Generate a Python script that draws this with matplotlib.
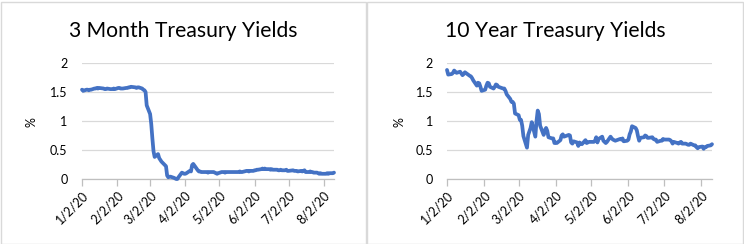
"""
Treasury yields 2020: 3-month vs 10-year, two Excel-style panels side by side.
Values are daily closes (business days, Jan 2 - Aug 11 2020) read off the chart.
"""
import numpy as np
import pandas as pd
import matplotlib
matplotlib.use("Agg")
import matplotlib.pyplot as plt
from matplotlib.patches import Rectangle

plt.rcParams["font.family"] = ["Lato", "DejaVu Sans"]

# --- data -----------------------------------------------------------------
start_date = "2020-01-02"
end_date = "2020-08-11"
bond_holidays = ["2020-01-20", "2020-02-17", "2020-04-10", "2020-05-25", "2020-07-03"]

yield_3m = [
    # Jan
    1.54, 1.52, 1.54, 1.54, 1.53, 1.54, 1.54, 1.56, 1.56, 1.57, 1.56, 1.57, 1.56, 1.55,
    1.55, 1.56, 1.55, 1.55, 1.55, 1.56, 1.55,
    # Feb
    1.57, 1.57, 1.56, 1.56, 1.56, 1.57, 1.57, 1.58, 1.58, 1.59, 1.58, 1.57, 1.58, 1.58,
    1.56, 1.54, 1.53, 1.50, 1.27,
    # Mar
    1.12, 0.95, 0.70, 0.48, 0.38, 0.43, 0.36, 0.33, 0.30, 0.28, 0.22, 0.06, 0.03, 0.04,
    0.04, 0.02, 0.01, 0.00, 0.00, 0.03, 0.11, 0.10,
    # Apr
    0.09, 0.09, 0.10, 0.14, 0.13, 0.24, 0.26, 0.15, 0.13, 0.13, 0.12, 0.12, 0.12, 0.12,
    0.11, 0.12, 0.12, 0.12, 0.11, 0.10, 0.09,
    # May
    0.10, 0.12, 0.12, 0.12, 0.11, 0.12, 0.12, 0.12, 0.12, 0.12, 0.12, 0.12, 0.12, 0.13,
    0.12, 0.12, 0.14, 0.14, 0.13, 0.14,
    # Jun
    0.14, 0.15, 0.15, 0.16, 0.16, 0.17, 0.18, 0.17, 0.18, 0.17, 0.17, 0.16, 0.17, 0.16,
    0.16, 0.16, 0.15, 0.15, 0.16, 0.15, 0.15, 0.16,
    # Jul
    0.14, 0.14, 0.15, 0.14, 0.14, 0.14, 0.13, 0.14, 0.13, 0.14, 0.15, 0.12, 0.12, 0.13,
    0.12, 0.12, 0.11, 0.11, 0.10, 0.09, 0.10, 0.09,
    # Aug
    0.09, 0.09, 0.10, 0.09, 0.10, 0.10, 0.11,
]

yield_10y = [
    # Jan
    1.88, 1.80, 1.81, 1.83, 1.87, 1.85, 1.83, 1.85, 1.82, 1.79, 1.81, 1.84, 1.78, 1.77,
    1.74, 1.70, 1.61, 1.66, 1.65, 1.59, 1.52,
    # Feb
    1.54, 1.61, 1.66, 1.65, 1.59, 1.56, 1.59, 1.63, 1.62, 1.59, 1.56, 1.56, 1.52, 1.46,
    1.38, 1.33, 1.33, 1.30, 1.13,
    # Mar
    1.10, 1.02, 1.02, 0.92, 0.74, 0.54, 0.76, 0.82, 0.88, 0.98, 0.73, 1.00, 1.18, 1.12,
    0.92, 0.76, 0.84, 0.88, 0.83, 0.72, 0.70, 0.70,
    # Apr
    0.62, 0.63, 0.62, 0.67, 0.75, 0.77, 0.73, 0.76, 0.75, 0.63, 0.61, 0.65, 0.63, 0.57,
    0.63, 0.61, 0.60, 0.67, 0.62, 0.63, 0.64,
    # May
    0.64, 0.64, 0.66, 0.72, 0.63, 0.69, 0.73, 0.66, 0.64, 0.62, 0.64, 0.73, 0.70, 0.68,
    0.67, 0.66, 0.69, 0.68, 0.70, 0.65,
    # Jun
    0.66, 0.68, 0.77, 0.82, 0.91, 0.88, 0.84, 0.74, 0.66, 0.71, 0.72, 0.75, 0.74, 0.71,
    0.71, 0.72, 0.69, 0.68, 0.68, 0.64, 0.66, 0.66,
    # Jul
    0.69, 0.68, 0.68, 0.67, 0.65, 0.61, 0.64, 0.62, 0.61, 0.63, 0.64, 0.61, 0.61, 0.60,
    0.59, 0.59, 0.61, 0.58, 0.58, 0.55, 0.53, 0.55,
    # Aug
    0.56, 0.52, 0.55, 0.55, 0.57, 0.58, 0.60,
]

titles = ["3 Month Treasury Yields", "10 Year Treasury Yields"]
tick_dates = pd.to_datetime([f"2020-{m}-02" for m in range(1, 9)])
y_ticks = [0, 0.5, 1, 1.5, 2]

dates = pd.bdate_range(start_date, end_date, freq="C", holidays=bond_holidays)
assert len(dates) == len(yield_3m) == len(yield_10y)

# --- figure ---------------------------------------------------------------
W, H = 744, 244
fig = plt.figure(figsize=(W / 100, H / 100), dpi=100)

LINE = "#4472C4"
GRID = "#D9D9D9"
TXT = "#000000"
FS = 9


def px(x0, x1, ytop, ybot):
    return [x0 / W, 1 - ybot / H, (x1 - x0) / W, (ybot - ytop) / H]


panels = [
    # panel box (x0, x1), axes box (x0, x1), ylabel x, y tick pad
    dict(box=(0.5, 366), ax=(82, 334), ylab=32, pad=10.5),
    dict(box=(367, 743), ax=(447, 712), ylab=399, pad=10),
]

for spec, title, vals in zip(panels, titles, [yield_3m, yield_10y]):
    bx0, bx1 = spec["box"]
    fig.patches.append(Rectangle((bx0 / W, 0.5 / H), (bx1 - bx0) / W, (H - 2) / H,
                                 transform=fig.transFigure, fill=False,
                                 edgecolor=GRID, lw=1.0))
    fig.text((bx0 + bx1) / 2 / W, 1 - 31 / H, title, ha="center", va="center",
             fontsize=15.2, color=TXT)

    ax = fig.add_axes(px(spec["ax"][0], spec["ax"][1], 63, 179))
    ax.plot(dates, vals, color=LINE, lw=2.7, solid_joinstyle="round",
            solid_capstyle="round", zorder=3, clip_on=False)
    ax.set_xlim(dates[0], dates[-1])
    ax.set_ylim(0, 2)
    ax.set_yticks(y_ticks)
    ax.set_yticklabels([f"{t:g}" for t in y_ticks])
    ax.grid(axis="y", color=GRID, lw=0.9)
    ax.set_axisbelow(True)
    for s in ["top", "right", "left"]:
        ax.spines[s].set_visible(False)
    ax.spines["bottom"].set_color("#BFBFBF")
    ax.spines["bottom"].set_linewidth(0.9)
    ax.tick_params(axis="y", length=0, pad=spec["pad"], labelsize=FS, colors=TXT)
    ax.tick_params(axis="x", length=5, width=0.9, color="#BFBFBF", direction="out",
                   labelsize=FS, labelcolor=TXT, pad=2)
    ax.set_xticks(tick_dates)
    ax.set_xticklabels([f"{d.month}/{d.day}/{d.strftime('%y')}" for d in tick_dates],
                       rotation=45, ha="right", va="top", rotation_mode="anchor")
    fig.text(spec["ylab"] / W, 1 - 122 / H, "%", rotation=90, ha="center",
             va="center", fontsize=FS, color=TXT)

fig.savefig("out.png", dpi=100)
